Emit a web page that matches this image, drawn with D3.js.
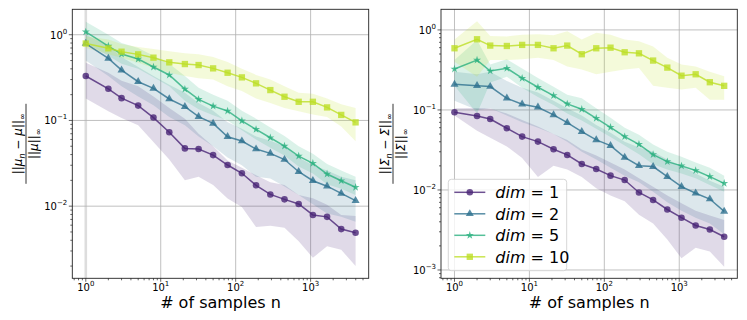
<!DOCTYPE html>
<html>
<head>
<meta charset="utf-8">
<script src="https://cdn.jsdelivr.net/npm/d3@7"></script>
<style>
  body { margin: 0; background: #fff; }
  svg text { font-family: "DejaVu Sans", sans-serif; fill: #000; }
</style>
</head>
<body>
<svg id="chart" width="747" height="320"></svg>
<script>
// number of samples (x values, shared by both panels)
var nSamples = [1, 2, 3, 5, 8, 13, 21, 32, 50, 78, 121, 187, 290, 448, 693, 1072, 1657, 2560, 3981];
var dims = [1, 2, 5, 10];

// left panel: ||mu_n - mu|| / ||mu||
var mu1   = [0.33, 0.234, 0.182, 0.149, 0.108, 0.0727, 0.0472, 0.0464, 0.0394, 0.0302, 0.0242, 0.0175, 0.0137, 0.0120, 0.0106, 0.0079, 0.0075, 0.0054, 0.0049];
var mu1Hi = [0.47, 0.36, 0.29, 0.25, 0.19, 0.14, 0.105, 0.07, 0.05, 0.034, 0.028, 0.023, 0.019, 0.0176, 0.0135, 0.0124, 0.0104, 0.0079, 0.0077];
var mu1Lo = [0.18, 0.128, 0.107, 0.088, 0.056, 0.035, 0.020, 0.022, 0.0176, 0.0123, 0.0098, 0.0057, 0.0059, 0.0056, 0.0039, 0.0025, 0.0034, 0.0031, 0.0020];

var mu2   = [0.79, 0.53, 0.387, 0.283, 0.237, 0.178, 0.145, 0.111, 0.0925, 0.0646, 0.0575, 0.0464, 0.0413, 0.035, 0.0252, 0.0198, 0.0171, 0.0141, 0.0116];
var mu2Hi = [1.0, 0.75, 0.55, 0.42, 0.33, 0.26, 0.21, 0.16, 0.13, 0.095, 0.08, 0.065, 0.058, 0.05, 0.037, 0.03, 0.026, 0.022, 0.02];
var mu2Lo = [0.5, 0.33, 0.25, 0.19, 0.15, 0.11, 0.088, 0.065, 0.05, 0.037, 0.03, 0.022, 0.021, 0.017, 0.0135, 0.0105, 0.0082, 0.0075, 0.0066];

var mu5   = [1.08, 0.738, 0.595, 0.52, 0.42, 0.339, 0.232, 0.176, 0.147, 0.129, 0.099, 0.0787, 0.0628, 0.0503, 0.0384, 0.0316, 0.0237, 0.0198, 0.0166];
var mu5Hi = [1.42, 1.0, 0.8, 0.7, 0.57, 0.46, 0.33, 0.24, 0.2, 0.17, 0.13, 0.105, 0.083, 0.066, 0.05, 0.041, 0.031, 0.026, 0.022];
var mu5Lo = [0.8, 0.57, 0.46, 0.4, 0.32, 0.25, 0.17, 0.135, 0.115, 0.1, 0.077, 0.06, 0.048, 0.039, 0.029, 0.024, 0.018, 0.016, 0.0135];

var mu10   = [0.79, 0.694, 0.634, 0.59, 0.54, 0.476, 0.455, 0.443, 0.405, 0.36, 0.318, 0.271, 0.226, 0.189, 0.165, 0.165, 0.142, 0.116, 0.095];
var mu10Hi = [0.96, 0.88, 0.78, 0.72, 0.68, 0.64, 0.61, 0.59, 0.55, 0.48, 0.40, 0.34, 0.30, 0.25, 0.21, 0.205, 0.18, 0.155, 0.14];
var mu10Lo = [0.70, 0.59, 0.54, 0.47, 0.41, 0.36, 0.33, 0.31, 0.30, 0.25, 0.22, 0.18, 0.16, 0.14, 0.128, 0.117, 0.11, 0.085, 0.057];

// right panel: ||Sigma_n - Sigma|| / ||Sigma||
var sig1   = [0.0935, 0.084, 0.077, 0.059, 0.0464, 0.0402, 0.0323, 0.0274, 0.0211, 0.0183, 0.0151, 0.0133, 0.0093, 0.0075, 0.0057, 0.0045, 0.0036, 0.0032, 0.0026];
var sig1Hi = [0.105, 0.106, 0.104, 0.09, 0.075, 0.062, 0.05, 0.042, 0.032, 0.027, 0.022, 0.018, 0.014, 0.011, 0.0085, 0.0068, 0.0055, 0.0048, 0.0042];
var sig1Lo = [0.085, 0.055, 0.045, 0.035, 0.025, 0.0145, 0.02, 0.018, 0.0145, 0.0105, 0.0085, 0.0072, 0.0049, 0.0038, 0.0024, 0.0014, 0.0019, 0.0017, 0.0011];

var sig2   = [0.209, 0.201, 0.196, 0.14, 0.118, 0.108, 0.0866, 0.0695, 0.0536, 0.0422, 0.0358, 0.0255, 0.0201, 0.0196, 0.0147, 0.011, 0.0091, 0.0077, 0.0054];
var sig2Hi = [0.3, 0.28, 0.3, 0.23, 0.19, 0.165, 0.13, 0.105, 0.085, 0.065, 0.052, 0.04, 0.034, 0.03, 0.024, 0.02, 0.016, 0.013, 0.011];
var sig2Lo = [0.13, 0.1, 0.105, 0.085, 0.07, 0.06, 0.05, 0.04, 0.03, 0.024, 0.019, 0.015, 0.0125, 0.0095, 0.007, 0.0055, 0.0045, 0.0038, 0.0028];

var sig5   = [0.325, 0.42, 0.307, 0.332, 0.249, 0.192, 0.151, 0.119, 0.102, 0.0787, 0.0607, 0.0464, 0.0372, 0.0277, 0.0226, 0.02, 0.0175, 0.0147, 0.0121];
var sig5Hi = [0.42, 0.75, 0.37, 0.43, 0.33, 0.25, 0.195, 0.155, 0.14, 0.105, 0.08, 0.06, 0.049, 0.037, 0.03, 0.026, 0.022, 0.019, 0.015];
var sig5Lo = [0.2, 0.09, 0.22, 0.26, 0.19, 0.145, 0.115, 0.09, 0.074, 0.058, 0.046, 0.036, 0.028, 0.021, 0.018, 0.016, 0.014, 0.0115, 0.0095];

var sig10   = [0.59, 0.764, 0.637, 0.63, 0.65, 0.65, 0.59, 0.637, 0.497, 0.59, 0.60, 0.526, 0.51, 0.414, 0.338, 0.268, 0.279, 0.222, 0.2];
var sig10Hi = [0.76, 1.28, 0.84, 0.83, 0.87, 0.88, 0.86, 0.96, 0.76, 0.92, 0.87, 0.76, 0.72, 0.62, 0.45, 0.37, 0.35, 0.30, 0.264];
var sig10Lo = [0.40, 0.26, 0.42, 0.42, 0.43, 0.45, 0.42, 0.35, 0.32, 0.28, 0.30, 0.32, 0.335, 0.2, 0.19, 0.18, 0.19, 0.134, 0.134];

var colors = [0.1, 0.367, 0.633, 0.9].map(d3.interpolateViridis);
var symbols = [d3.symbolCircle, d3.symbolTriangle, d3.symbolStar, d3.symbolSquare];
var symSizes = [34, 28, 20, 40];

var svg = d3.select("#chart");

function decades(dom) {
  var out = [];
  for (var e = Math.floor(Math.log10(dom[0])); e <= Math.ceil(Math.log10(dom[1])); e++) out.push(e);
  return out;
}

function supLabel(sel, e) {
  sel.text("10");
  sel.append("tspan").attr("dy", -5).attr("font-size", "7px").text(e < 0 ? "\u2212" + (-e) : e);
}

function drawPanel(o) {
  var g = svg.append("g");
  var x = d3.scaleLog().domain(o.xDom).range([o.x0, o.x1]);
  var y = d3.scaleLog().domain(o.yDom).range([o.y1, o.y0]);
  var inX = function(v) { return v >= o.xDom[0] && v <= o.xDom[1]; };
  var inY = function(v) { return v >= o.yDom[0] && v <= o.yDom[1]; };

  var xMaj = decades(o.xDom).map(function(e) { return Math.pow(10, e); }).filter(inX);
  var yMaj = decades(o.yDom).map(function(e) { return Math.pow(10, e); }).filter(inY);
  var xMin = [], yMin = [];
  decades(o.xDom).forEach(function(e) { for (var k = 2; k < 10; k++) xMin.push(k * Math.pow(10, e)); });
  decades(o.yDom).forEach(function(e) { for (var k = 2; k < 10; k++) yMin.push(k * Math.pow(10, e)); });
  xMin = xMin.filter(inX); yMin = yMin.filter(inY);

  // grid
  g.selectAll(".gx").data(xMaj).enter().append("line")
    .attr("x1", function(d) { return x(d); }).attr("x2", function(d) { return x(d); })
    .attr("y1", o.y0).attr("y2", o.y1)
    .attr("stroke", function(d) { return (o.lightFirst && d === 1) ? "#dddddd" : "#b0b0b0"; })
    .attr("stroke-width", function(d) { return (o.lightFirst && d === 1) ? 2.6 : 0.8; });
  g.selectAll(".gy").data(yMaj).enter().append("line")
    .attr("x1", o.x0).attr("x2", o.x1)
    .attr("y1", function(d) { return y(d); }).attr("y2", function(d) { return y(d); })
    .attr("stroke", "#b0b0b0").attr("stroke-width", 0.8);

  var area = d3.area()
    .x(function(d) { return x(d.n); })
    .y0(function(d) { return y(d.lo); })
    .y1(function(d) { return y(d.hi); });
  var line = d3.line()
    .x(function(d) { return x(d.n); })
    .y(function(d) { return y(d.m); });

  var series = o.series.map(function(s) {
    return nSamples.map(function(n, i) { return { n: n, m: s[0][i], lo: s[1][i], hi: s[2][i] }; });
  });

  series.forEach(function(pts, k) {
    g.append("path").datum(pts).attr("d", area)
      .attr("fill", colors[k]).attr("fill-opacity", 0.17).attr("stroke", "none");
  });
  series.forEach(function(pts, k) {
    g.append("path").datum(pts).attr("d", line)
      .attr("fill", "none").attr("stroke", colors[k]).attr("stroke-opacity", 0.8).attr("stroke-width", 1.5);
    g.selectAll(null).data(pts).enter().append("path")
      .attr("d", d3.symbol().type(symbols[k]).size(symSizes[k]))
      .attr("transform", function(d) { return "translate(" + x(d.n) + "," + y(d.m) + ")"; })
      .attr("fill", colors[k]).attr("fill-opacity", 0.8);
  });

  // frame
  g.append("rect").attr("x", o.x0).attr("y", o.y0)
    .attr("width", o.x1 - o.x0).attr("height", o.y1 - o.y0)
    .attr("fill", "none").attr("stroke", "#222").attr("stroke-width", 0.9);

  // ticks
  g.selectAll(".tx").data(xMaj.concat(xMin)).enter().append("line")
    .attr("x1", function(d) { return x(d); }).attr("x2", function(d) { return x(d); })
    .attr("y1", o.y1).attr("y2", function(d) { return o.y1 + (xMaj.indexOf(d) >= 0 ? 3.5 : 2); })
    .attr("stroke", "#222").attr("stroke-width", 0.7);
  g.selectAll(".ty").data(yMaj.concat(yMin)).enter().append("line")
    .attr("y1", function(d) { return y(d); }).attr("y2", function(d) { return y(d); })
    .attr("x1", o.x0).attr("x2", function(d) { return o.x0 - (yMaj.indexOf(d) >= 0 ? 3.5 : 2); })
    .attr("stroke", "#222").attr("stroke-width", 0.7);

  g.selectAll(".lx").data(xMaj).enter().append("text")
    .attr("x", function(d) { return x(d); }).attr("y", o.y1 + 13)
    .attr("text-anchor", "middle").attr("font-size", "10px")
    .each(function(d) { supLabel(d3.select(this), Math.round(Math.log10(d))); });
  g.selectAll(".ly").data(yMaj).enter().append("text")
    .attr("x", o.x0 - 5).attr("y", function(d) { return y(d) + 4; })
    .attr("text-anchor", "end").attr("font-size", "10px")
    .each(function(d) { supLabel(d3.select(this), Math.round(Math.log10(d))); });

  // x label
  g.append("text").attr("x", (o.x0 + o.x1) / 2).attr("y", o.y1 + 29.3)
    .attr("text-anchor", "middle").attr("font-size", "16px").text("# of samples n");

  // y label as a fraction
  var yl = g.append("g").attr("transform", "translate(" + o.labX + "," + (o.y0 + o.y1) / 2 + ") rotate(-90)");
  var num = yl.append("text").attr("y", -4).attr("text-anchor", "middle").attr("font-size", "12px");
  num.append("tspan").text("||");
  num.append("tspan").attr("font-style", "italic").text(o.sym);
  num.append("tspan").attr("font-size", "8px").attr("dy", 3).attr("font-style", "italic").text("n");
  num.append("tspan").attr("dy", -3).text(" \u2212 ");
  num.append("tspan").attr("font-style", "italic").text(o.sym);
  num.append("tspan").text("||");
  num.append("tspan").attr("font-size", "8px").attr("dy", 3).text("\u221e");
  yl.append("line").attr("x1", -40).attr("x2", 40).attr("y1", 0).attr("y2", 0)
    .attr("stroke", "#000").attr("stroke-width", 0.8);
  var den = yl.append("text").attr("y", 12).attr("text-anchor", "middle").attr("font-size", "12px");
  den.append("tspan").text("||");
  den.append("tspan").attr("font-style", "italic").text(o.sym);
  den.append("tspan").text("||");
  den.append("tspan").attr("font-size", "8px").attr("dy", 3).text("\u221e");

  return { g: g, x: x, y: y };
}

var xDom = [Math.pow(10, -0.18), Math.pow(10, 3.775)];

drawPanel({
  x0: 72.3, x1: 368.7, y0: 9.3, y1: 278.3, labX: 26, sym: "\u03bc", lightFirst: true,
  xDom: xDom, yDom: [0.00144, 1.98],
  series: [[mu1, mu1Lo, mu1Hi], [mu2, mu2Lo, mu2Hi], [mu5, mu5Lo, mu5Hi], [mu10, mu10Lo, mu10Hi]]
});

drawPanel({
  x0: 441, x1: 737.3, y0: 9.3, y1: 278.3, labX: 393, sym: "\u03a3", lightFirst: false,
  xDom: xDom, yDom: [0.000787, 1.81],
  series: [[sig1, sig1Lo, sig1Hi], [sig2, sig2Lo, sig2Hi], [sig5, sig5Lo, sig5Hi], [sig10, sig10Lo, sig10Hi]]
});

// legend (right panel)
var leg = svg.append("g").attr("transform", "translate(448.3,179.3)");
leg.append("rect").attr("width", 118.4).attr("height", 91.4).attr("rx", 3)
  .attr("fill", "#fff").attr("fill-opacity", 0.8).attr("stroke", "#cccccc").attr("stroke-width", 0.8);
dims.forEach(function(d, k) {
  var row = leg.append("g").attr("transform", "translate(0," + (13 + k * 21.5) + ")");
  row.append("line").attr("x1", 6).attr("x2", 37).attr("stroke", colors[k])
    .attr("stroke-opacity", 0.8).attr("stroke-width", 1.5);
  row.append("path").attr("d", d3.symbol().type(symbols[k]).size(symSizes[k]))
    .attr("transform", "translate(21.5,0)").attr("fill", colors[k]).attr("fill-opacity", 0.8);
  var t = row.append("text").attr("x", 47).attr("y", 6).attr("font-size", "16px");
  t.append("tspan").attr("font-style", "italic").text("dim");
  t.append("tspan").text(" = " + d);
});
</script>
</body>
</html>
